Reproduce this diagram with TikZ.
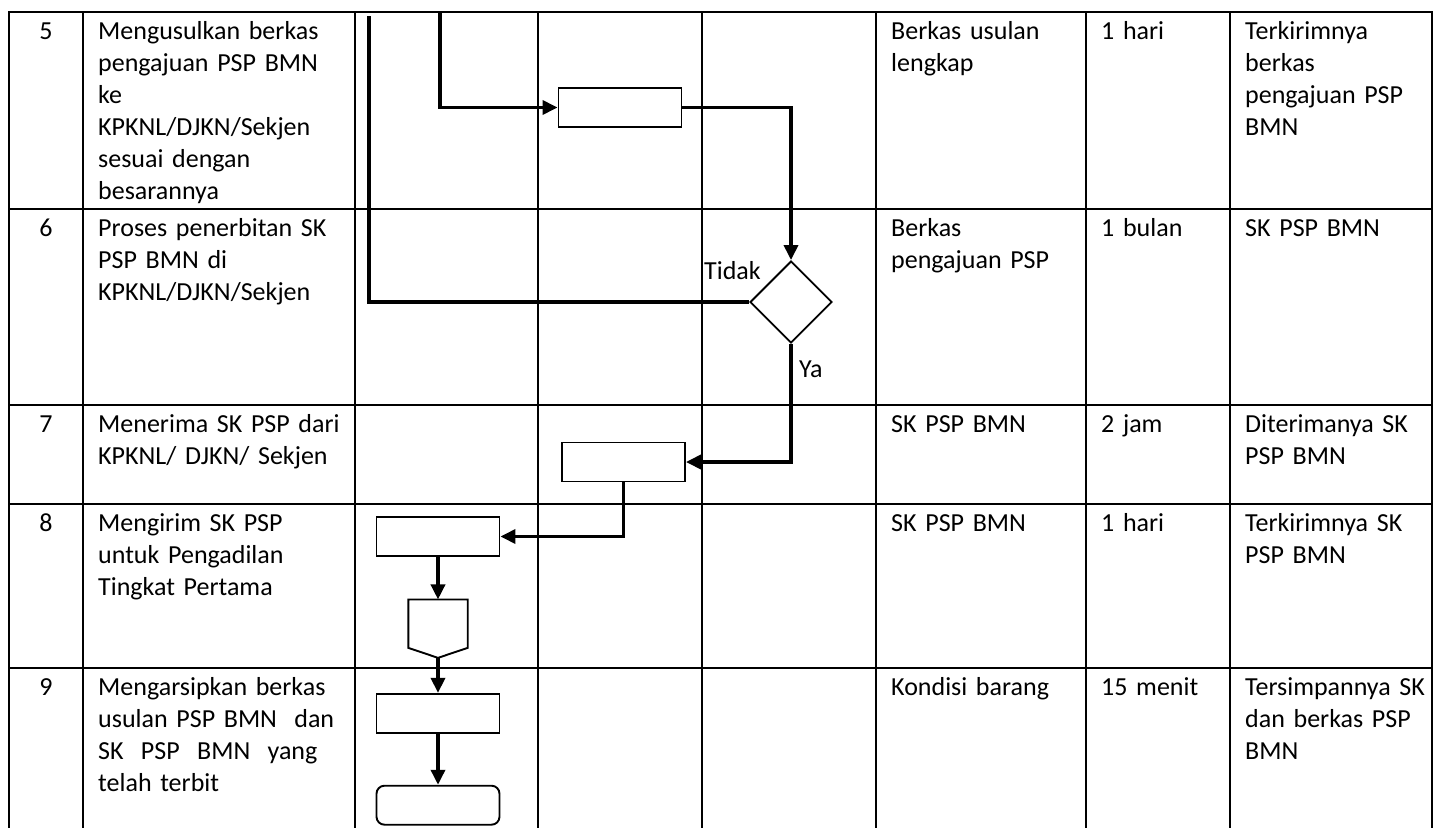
\documentclass[tikz,border=0pt]{standalone}
\usepackage{fontspec}
\setmainfont{Carlito}
\usetikzlibrary{arrows.meta,positioning,shapes.geometric}
\newcommand{\tabfont}{\fontsize{26}{32}\selectfont}

\begin{document}
\begin{tikzpicture}[
        x=1pt, y=-1pt,
        >={Triangle[length=15pt,width=14pt]},
        grid/.style={line width=1.4pt, line cap=rect},
        flow/.style={line width=3.5pt},
        box/.style={draw, line width=1.9pt, minimum width=123pt, minimum height=39pt, inner sep=0pt},
        cell/.style={anchor=base west, inner sep=0pt, text width=#1, align=left, font=\tabfont},
        cell/.default=170pt,
        num/.style={anchor=base, inner sep=0pt, font=\tabfont}
    ]
    \useasboundingbox (0,0) rectangle (1437,827);

    % tabel
    \foreach \gx in {9,83,355,538,702,876,1086,1230,1432}
        \draw[grid] (\gx,12) -- (\gx,827);
    \foreach \gy in {12,209,405,504,668}
        \draw[grid] (9,\gy) -- (1432,\gy);

    % 5
    \node[num] (n5) at (46,39) {5};
    \node[cell=245pt] (d5) at (98,39) {Mengusulkan berkas\\pengajuan PSP BMN\\ke\\KPKNL/DJKN/Sekjen\\sesuai dengan\\besarannya};
    \node[cell] (i5) at (891,39) {Berkas usulan\\lengkap};
    \node[cell=115pt] (w5) at (1101,39) {1 hari};
    \node[cell=185pt] (o5) at (1245,39) {Terkirimnya\\berkas\\pengajuan PSP\\BMN};

    % 6
    \node[num] (n6) at (46,236) {6};
    \node[cell=245pt] (d6) at (98,236) {Proses penerbitan SK\\PSP BMN di\\KPKNL/DJKN/Sekjen};
    \node[cell] (i6) at (891,236) {Berkas\\pengajuan PSP};
    \node[cell=115pt] (w6) at (1101,236) {1 bulan};
    \node[cell=185pt] (o6) at (1245,236) {SK PSP BMN};

    % 7
    \node[num] (n7) at (46,432) {7};
    \node[cell=245pt] (d7) at (98,432) {Menerima SK PSP dari\\KPKNL/ DJKN/ Sekjen};
    \node[cell] (i7) at (891,432) {SK PSP BMN};
    \node[cell=115pt] (w7) at (1101,432) {2 jam};
    \node[cell=185pt] (o7) at (1245,432) {Diterimanya SK\\PSP BMN};

    % 8
    \node[num] (n8) at (46,531) {8};
    \node[cell=245pt] (d8) at (98,531) {Mengirim SK PSP\\untuk Pengadilan\\Tingkat Pertama};
    \node[cell] (i8) at (891,531) {SK PSP BMN};
    \node[cell=115pt] (w8) at (1101,531) {1 hari};
    \node[cell=185pt] (o8) at (1245,531) {Terkirimnya SK\\PSP BMN};

    % 9
    \node[num] (n9) at (46,695) {9};
    \node[cell=245pt] (d9) at (98,695) {Mengarsipkan berkas\\usulan PSP BMN\ \ dan\\SK\ \ PSP\ \ BMN\ \ yang\\telah terbit};
    \node[cell] (i9) at (891,695) {Kondisi barang};
    \node[cell=115pt] (w9) at (1101,695) {15 menit};
    \node[cell=185pt] (o9) at (1245,695) {Tersimpannya SK\\dan berkas PSP\\BMN};

    % bagan alir
    \coordinate (inA) at (369,16);
    \coordinate (inB) at (440,12);
    \node[box] (b5) at (620,107.5) {};
    \node[draw, diamond, line width=1.9pt, minimum width=82pt, minimum height=82pt, inner sep=0pt] (dec) at (791,302) {};
    \node[box] (b7) at (623.5,462) {};
    \node[box] (b8) at (438,536.5) {};
    \node[minimum width=59pt, minimum height=58pt, inner sep=0pt] (con) [below=42.5pt of b8] {};
    \node[box] (b9) [below=35pt of con] {};
    \node[box, rounded corners=8pt] (fin) [below=51pt of b9] {};
    \draw[line width=1.9pt] (con.north west) -- (con.north east) -- ([yshift=10pt]con.south east)
        -- (con.south) -- ([yshift=10pt]con.south west) -- cycle;

    \node[anchor=base west, inner sep=0pt, font=\tabfont] (tdk) at (704,279) {Tidak};
    \node[anchor=base west, inner sep=0pt, font=\tabfont] (ya) at (799,377) {Ya};

    \draw[flow] (dec.west) -| (inA);
    \draw[flow,->] (inB) |- (b5.west);
    \draw[flow,->] (b5.east) -| (dec.north);
    \draw[flow,->] (dec.south) |- (b7.east);
    \draw[flow,->] (b7.south) |- (b8.east);
    \draw[flow,->] (b8.south) -- (con.north);
    \draw[flow,->] (con.south) -- (b9.north);
    \draw[flow,->] (b9.south) -- (fin.north);
\end{tikzpicture}
\end{document}
